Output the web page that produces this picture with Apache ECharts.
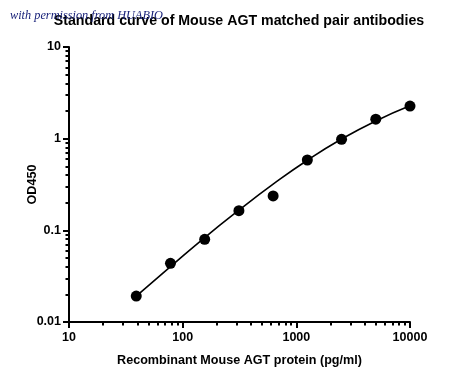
<!DOCTYPE html>
<html><head><meta charset="utf-8">
<script src="https://cdn.jsdelivr.net/npm/echarts@6/dist/echarts.min.js"></script>
<style>html,body{margin:0;padding:0;background:#fff}#c{width:450px;height:379px}</style>
</head><body><div id="c"></div>
<script>
// Data
const concentrations = [39.0625, 78.125, 156.25, 312.5, 625, 1250, 2500, 5000, 10000];
const od450 = [0.0192, 0.0437, 0.0798, 0.164, 0.237, 0.585, 0.984, 1.63, 2.27];
// Fitted curve at each standard
const curveX = [39.0625, 78.125, 156.25, 312.5, 625, 1250, 2500, 5000, 10000];
const curveY = [0.0192, 0.0402, 0.0835, 0.166, 0.319, 0.582, 0.99, 1.56, 2.28];
// Ticks
const xMajorTicks = [10, 100, 1000, 10000];
const xMinorTicks = [20,30,40,50,60,70,80,90,200,300,400,500,600,700,800,900,2000,3000,4000,5000,6000,7000,8000,9000];
const yMajorTicks = [0.01, 0.1, 1, 10];
const yMinorTicks = [0.02,0.03,0.04,0.05,0.06,0.07,0.08,0.09,0.2,0.3,0.4,0.5,0.6,0.7,0.8,0.9,2,3,4,5,6,7,8,9];
const yTickLabels = {0.01:'0.01', 0.1:'0.1', 1:'1', 10:'10'};

const chart = echarts.init(document.getElementById('c'), null, {renderer:'canvas'});
const ff = '"Liberation Sans", Arial, sans-serif';
const grid = {left:69, right:40, top:47, bottom:57};
const axisLine = {show:true, onZero:false, lineStyle:{color:'#000', width:2}};
chart.setOption({
  animation:false,
  backgroundColor:'#fff',
  title:[{
    text:'Standard curve of Mouse AGT matched pair antibodies',
    left:234, top:9, textAlign:'center',
    textStyle:{fontFamily:ff, fontWeight:'bold', fontSize:14.2, color:'#000'}
  },{
    text:'with permission from HUABIO',
    left:5, top:5,
    textStyle:{fontFamily:'"Liberation Serif", "DejaVu Serif", serif', fontStyle:'italic', fontWeight:'normal', fontSize:12.3, color:'#1a237a'}
  }],
  grid: grid,
  xAxis:[{
    type:'log', logBase:10, min:10, max:10000,
    name:'Recombinant Mouse AGT protein (pg/ml)', nameLocation:'middle', nameGap:32, nameMoveOverlap:false,
    nameTextStyle:{fontFamily:ff, fontWeight:'bold', fontSize:12.6, color:'#000'},
    axisLine: axisLine,
    axisTick:{show:true, length:6, lineStyle:{color:'#000', width:2}, customValues: xMajorTicks},
    axisLabel:{fontFamily:ff, fontWeight:'bold', fontSize:12.5, color:'#000', margin:9, customValues: xMajorTicks, formatter: v => String(Math.round(v))},
    splitLine:{show:false}, minorTick:{show:false}
  },{
    type:'log', logBase:10, min:10, max:10000, position:'bottom',
    axisLine:{show:false},
    axisTick:{show:true, length:3.5, lineStyle:{color:'#000', width:2}, customValues: xMinorTicks},
    axisLabel:{show:false}, splitLine:{show:false}
  }],
  yAxis:[{
    type:'log', logBase:10, min:0.01, max:10,
    name:'OD450', nameLocation:'middle', nameGap:30, nameRotate:90, nameMoveOverlap:false,
    nameTextStyle:{fontFamily:ff, fontWeight:'bold', fontSize:12.6, color:'#000'},
    axisLine: axisLine,
    axisTick:{show:true, length:6, lineStyle:{color:'#000', width:2}, customValues: yMajorTicks},
    axisLabel:{fontFamily:ff, fontWeight:'bold', fontSize:12.5, color:'#000', margin:8, customValues: yMajorTicks,
      formatter: v => { for (const k of yMajorTicks) { if (Math.abs(Math.log10(v) - Math.log10(k)) < 1e-6) return yTickLabels[k]; } return ''; }},
    splitLine:{show:false}
  },{
    type:'log', logBase:10, min:0.01, max:10, position:'left',
    axisLine:{show:false},
    axisTick:{show:true, length:3.5, lineStyle:{color:'#000', width:2}, customValues: yMinorTicks},
    axisLabel:{show:false}, splitLine:{show:false}
  }],
  series:[{
    type:'line', smooth:true, showSymbol:false, symbol:'none',
    data: curveX.map((x,i)=>[x, curveY[i]]),
    lineStyle:{color:'#000', width:1.6}, z:2
  },{
    type:'scatter', symbol:'circle', symbolSize:11,
    data: concentrations.map((x,i)=>[x, od450[i]]),
    itemStyle:{color:'#000', opacity:1}, z:3
  }]
});
</script></body></html>
